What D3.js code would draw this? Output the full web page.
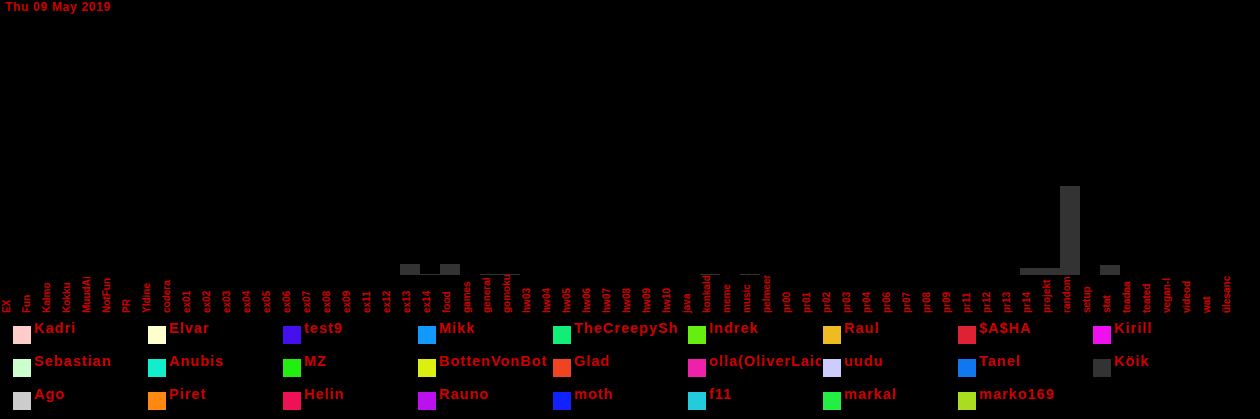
<!DOCTYPE html>
<html><head><meta charset="utf-8">
<script src="https://cdn.jsdelivr.net/npm/d3@7"></script>
<style>
html,body{margin:0;padding:0;background:#000;overflow:hidden}
text{font-family:"Liberation Sans",Arial,sans-serif;font-weight:bold;fill:#cc0000}
</style></head>
<body>
<svg id="chart" width="1260" height="419"></svg>
<script>
const title = "Thu 09 May 2019";
const categories = ["EX","Fun","Kalmo","Kokku","MuudAi","NotFun","PR","Yldine","codera",
 "ex01","ex02","ex03","ex04","ex05","ex06","ex07","ex08","ex09","ex11","ex12","ex13","ex14",
 "food","games","general","gomoku","hw03","hw04","hw05","hw06","hw07","hw08","hw09","hw10",
 "java","konkalde","meme","music","pelmeen","pr00","pr01","pr02","pr03","pr04","pr06","pr07",
 "pr08","pr09","pr11","pr12","pr13","pr14","projekt","random","setup","stat","teadaa","teated",
 "vegan-l","videod","wat","ülesanc"];
// message counts for "Köik" (all users)
const seriesName = "Köik";
const values = [0,0,0,0,0,0,0,0,0,
 0,0,0,0,0,0,0,0,0,0,0,11,1,
 11,0,1,1,0,0,0,0,0,0,0,0,
 0,1,0,1,0,0,0,0,0,0,0,0,
 0,0,0,0,0,7,7,89,0,10,0,0,
 0,0,0,0];
const legendNames = ["Kadri","Sebastian","Ago","Elvar","Anubis","Piret","test9","MZ","Helin",
 "Mikk","BottenVonBot","Rauno","TheCreepySh","Glad","moth","Indrek","olla(OliverLaid","f11",
 "Raul","uudu","markal","$A$HA","Tanel","marko169","Kirill","Köik"];
const legendColors = ["#ffcccc","#ccffcc","#cccccc","#ffffcc","#11eecc","#ff8811","#4411ee","#22ee11","#ee1155",
 "#1199ff","#ddee11","#bb11ee","#11ee77","#ee4422","#1122ff","#66ee11","#ee22aa","#22ccdd",
 "#eebb22","#ccccff","#22ee44","#dd2233","#1177ee","#aadd22","#ee11ee","#333333"];

const svg = d3.select("#chart");
const baseY = 275;
const x = d3.scaleBand().domain(categories).range([0, 1240]).padding(0);
const y = d3.scaleLinear().domain([0, 275]).range([baseY, 0]);
const color = d3.scaleOrdinal().domain(legendNames).range(legendColors);

svg.append("text").attr("x",5).attr("y",11).style("font-size","12px").style("letter-spacing","0.7px").text(title);

svg.append("g").selectAll("rect").data(categories.map((c,i)=>({c,v:values[i]})).filter(d=>d.v>0))
 .join("rect")
 .attr("x",d=>x(d.c)).attr("width",x.bandwidth())
 .attr("y",d=>y(d.v)).attr("height",d=>baseY-y(d.v))
 .attr("fill",color(seriesName));

// x axis labels
const defs = svg.append("defs");
defs.append("clipPath").attr("id","axclip").append("rect").attr("x",0).attr("y",baseY).attr("width",1260).attr("height",45);
const axis = d3.axisBottom(x).tickSize(0).tickPadding(0);
const ag = svg.append("g").attr("clip-path","url(#axclip)").append("g").attr("transform",`translate(0,${baseY})`).call(axis);
ag.select(".domain").remove();
ag.selectAll(".tick text")
 .attr("transform","translate(0,38) rotate(-90)")
 .attr("x",0).attr("y",0).attr("dy",0).attr("dx",0)
 .attr("text-anchor","start")
 .style("font-size","10px").style("font-family","'Liberation Sans',Arial,sans-serif").style("font-weight","bold")
 .attr("fill","#cc0000");

// legend
const leg = svg.append("g");
legendNames.forEach((n,i)=>{
  const col = Math.floor(i/3), row = i%3;
  const lx = 13 + col*135, ly = 326 + row*33;
  defs.append("clipPath").attr("id","lc"+i).append("rect").attr("x",lx).attr("y",ly-20).attr("width",133).attr("height",40);
  const g = leg.append("g").attr("clip-path",`url(#lc${i})`);
  g.append("rect").attr("x",lx).attr("y",ly).attr("width",18).attr("height",18).attr("fill",color(n));
  g.append("text").attr("x",lx+21).attr("y",ly+7).style("font-size","14.5px").style("letter-spacing","1px").text(n);
});
</script>
</body></html>
